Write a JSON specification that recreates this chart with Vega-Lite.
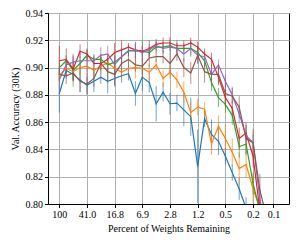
{
"$schema": "https://vega.github.io/schema/vega-lite/v6.json",
"width": 241, "height": 191,
"autosize": {"type": "none"},
"padding": {"left": 48, "top": 13, "right": 13, "bottom": 41},
"config": {
 "font": "Liberation Serif",
 "view": {"stroke": "black", "strokeWidth": 1},
 "axis": {"gridColor": "#b0b0b0", "gridWidth": 1, "gridOpacity": 1, "domainColor": "black", "tickColor": "black", "tickSize": 3.5, "labelColor": "black", "labelFontSize": 10, "titleFontSize": 10, "titleFontWeight": "normal", "titleColor": "black", "labelPadding": 2, "labelOverlap": false}
},
"data": {"values": [
{"s":"s1","x":100,"y":0.881,"lo":0.867,"hi":0.895},
{"s":"s1","x":80,"y":0.898,"lo":0.892,"hi":0.904},
{"s":"s1","x":64,"y":0.895,"lo":0.890,"hi":0.900},
{"s":"s1","x":51.2,"y":0.891,"lo":0.882,"hi":0.900},
{"s":"s1","x":40.96,"y":0.887,"lo":0.881,"hi":0.893},
{"s":"s1","x":32.77,"y":0.890,"lo":0.882,"hi":0.898},
{"s":"s1","x":26.21,"y":0.893,"lo":0.888,"hi":0.898},
{"s":"s1","x":20.97,"y":0.890,"lo":0.881,"hi":0.899},
{"s":"s1","x":16.78,"y":0.892,"lo":0.886,"hi":0.898},
{"s":"s1","x":13.42,"y":0.894,"lo":0.889,"hi":0.899},
{"s":"s1","x":10.74,"y":0.8955,"lo":0.8905,"hi":0.9005},
{"s":"s1","x":8.59,"y":0.881,"lo":0.872,"hi":0.890},
{"s":"s1","x":6.872,"y":0.893,"lo":0.883,"hi":0.903},
{"s":"s1","x":5.498,"y":0.889,"lo":0.882,"hi":0.896},
{"s":"s1","x":4.398,"y":0.8735,"lo":0.8605,"hi":0.8865},
{"s":"s1","x":3.518,"y":0.882,"lo":0.875,"hi":0.889},
{"s":"s1","x":2.815,"y":0.8735,"lo":0.8655,"hi":0.8815},
{"s":"s1","x":2.252,"y":0.874,"lo":0.868,"hi":0.880},
{"s":"s1","x":1.801,"y":0.869,"lo":0.857,"hi":0.881},
{"s":"s1","x":1.441,"y":0.864,"lo":0.850,"hi":0.878},
{"s":"s1","x":1.153,"y":0.8276,"lo":0.8006,"hi":0.8546},
{"s":"s1","x":0.922,"y":0.8625,"lo":0.8565,"hi":0.8685},
{"s":"s1","x":0.738,"y":0.851,"lo":0.840,"hi":0.862},
{"s":"s1","x":0.590,"y":0.846,"lo":0.836,"hi":0.856},
{"s":"s1","x":0.472,"y":0.835,"lo":0.829,"hi":0.841},
{"s":"s1","x":0.378,"y":0.823,"lo":0.817,"hi":0.829},
{"s":"s1","x":0.302,"y":0.811,"lo":0.803,"hi":0.819},
{"s":"s1","x":0.242,"y":0.797,"lo":0.789,"hi":0.805},
{"s":"s2","x":100,"y":0.894,"lo":0.890,"hi":0.898},
{"s":"s2","x":80,"y":0.8995,"lo":0.8945,"hi":0.9045},
{"s":"s2","x":64,"y":0.897,"lo":0.891,"hi":0.903},
{"s":"s2","x":51.2,"y":0.900,"lo":0.895,"hi":0.905},
{"s":"s2","x":40.96,"y":0.901,"lo":0.895,"hi":0.907},
{"s":"s2","x":32.77,"y":0.898,"lo":0.894,"hi":0.902},
{"s":"s2","x":26.21,"y":0.901,"lo":0.895,"hi":0.907},
{"s":"s2","x":20.97,"y":0.9035,"lo":0.8985,"hi":0.9085},
{"s":"s2","x":16.78,"y":0.8995,"lo":0.8945,"hi":0.9045},
{"s":"s2","x":13.42,"y":0.8965,"lo":0.8915,"hi":0.9015},
{"s":"s2","x":10.74,"y":0.8995,"lo":0.8935,"hi":0.9055},
{"s":"s2","x":8.59,"y":0.900,"lo":0.892,"hi":0.908},
{"s":"s2","x":6.872,"y":0.8995,"lo":0.8935,"hi":0.9055},
{"s":"s2","x":5.498,"y":0.8965,"lo":0.8905,"hi":0.9025},
{"s":"s2","x":4.398,"y":0.902,"lo":0.898,"hi":0.906},
{"s":"s2","x":3.518,"y":0.892,"lo":0.886,"hi":0.898},
{"s":"s2","x":2.815,"y":0.8965,"lo":0.8915,"hi":0.9015},
{"s":"s2","x":2.252,"y":0.891,"lo":0.885,"hi":0.897},
{"s":"s2","x":1.801,"y":0.882,"lo":0.874,"hi":0.890},
{"s":"s2","x":1.441,"y":0.867,"lo":0.859,"hi":0.875},
{"s":"s2","x":1.153,"y":0.871,"lo":0.865,"hi":0.877},
{"s":"s2","x":0.922,"y":0.8695,"lo":0.8645,"hi":0.8745},
{"s":"s2","x":0.738,"y":0.844,"lo":0.836,"hi":0.852},
{"s":"s2","x":0.590,"y":0.857,"lo":0.849,"hi":0.865},
{"s":"s2","x":0.472,"y":0.848,"lo":0.838,"hi":0.858},
{"s":"s2","x":0.378,"y":0.838,"lo":0.828,"hi":0.848},
{"s":"s2","x":0.302,"y":0.826,"lo":0.814,"hi":0.838},
{"s":"s2","x":0.242,"y":0.829,"lo":0.819,"hi":0.839},
{"s":"s2","x":0.193,"y":0.811,"lo":0.801,"hi":0.821},
{"s":"s2","x":0.155,"y":0.797,"lo":0.787,"hi":0.807},
{"s":"s3","x":100,"y":0.900,"lo":0.895,"hi":0.905},
{"s":"s3","x":80,"y":0.905,"lo":0.901,"hi":0.909},
{"s":"s3","x":64,"y":0.898,"lo":0.886,"hi":0.910},
{"s":"s3","x":51.2,"y":0.903,"lo":0.898,"hi":0.908},
{"s":"s3","x":40.96,"y":0.909,"lo":0.905,"hi":0.913},
{"s":"s3","x":32.77,"y":0.906,"lo":0.902,"hi":0.910},
{"s":"s3","x":26.21,"y":0.906,"lo":0.902,"hi":0.910},
{"s":"s3","x":20.97,"y":0.902,"lo":0.897,"hi":0.907},
{"s":"s3","x":16.78,"y":0.904,"lo":0.900,"hi":0.908},
{"s":"s3","x":13.42,"y":0.908,"lo":0.903,"hi":0.913},
{"s":"s3","x":10.74,"y":0.9125,"lo":0.9085,"hi":0.9165},
{"s":"s3","x":8.59,"y":0.912,"lo":0.907,"hi":0.917},
{"s":"s3","x":6.872,"y":0.912,"lo":0.904,"hi":0.920},
{"s":"s3","x":5.498,"y":0.911,"lo":0.907,"hi":0.915},
{"s":"s3","x":4.398,"y":0.915,"lo":0.911,"hi":0.919},
{"s":"s3","x":3.518,"y":0.915,"lo":0.911,"hi":0.919},
{"s":"s3","x":2.815,"y":0.916,"lo":0.912,"hi":0.920},
{"s":"s3","x":2.252,"y":0.914,"lo":0.910,"hi":0.918},
{"s":"s3","x":1.801,"y":0.914,"lo":0.910,"hi":0.918},
{"s":"s3","x":1.441,"y":0.914,"lo":0.908,"hi":0.920},
{"s":"s3","x":1.153,"y":0.911,"lo":0.906,"hi":0.916},
{"s":"s3","x":0.922,"y":0.905,"lo":0.900,"hi":0.910},
{"s":"s3","x":0.738,"y":0.889,"lo":0.883,"hi":0.895},
{"s":"s3","x":0.590,"y":0.878,"lo":0.871,"hi":0.885},
{"s":"s3","x":0.472,"y":0.873,"lo":0.867,"hi":0.879},
{"s":"s3","x":0.378,"y":0.865,"lo":0.858,"hi":0.872},
{"s":"s3","x":0.302,"y":0.842,"lo":0.834,"hi":0.850},
{"s":"s3","x":0.242,"y":0.844,"lo":0.837,"hi":0.851},
{"s":"s3","x":0.193,"y":0.815,"lo":0.807,"hi":0.823},
{"s":"s3","x":0.155,"y":0.795,"lo":0.787,"hi":0.803},
{"s":"s4","x":100,"y":0.905,"lo":0.894,"hi":0.916},
{"s":"s4","x":80,"y":0.906,"lo":0.898,"hi":0.914},
{"s":"s4","x":64,"y":0.899,"lo":0.890,"hi":0.908},
{"s":"s4","x":51.2,"y":0.912,"lo":0.907,"hi":0.917},
{"s":"s4","x":40.96,"y":0.910,"lo":0.906,"hi":0.914},
{"s":"s4","x":32.77,"y":0.903,"lo":0.898,"hi":0.908},
{"s":"s4","x":26.21,"y":0.903,"lo":0.898,"hi":0.908},
{"s":"s4","x":20.97,"y":0.906,"lo":0.902,"hi":0.910},
{"s":"s4","x":16.78,"y":0.911,"lo":0.904,"hi":0.918},
{"s":"s4","x":13.42,"y":0.913,"lo":0.906,"hi":0.920},
{"s":"s4","x":10.74,"y":0.915,"lo":0.912,"hi":0.918},
{"s":"s4","x":8.59,"y":0.913,"lo":0.907,"hi":0.919},
{"s":"s4","x":6.872,"y":0.912,"lo":0.908,"hi":0.916},
{"s":"s4","x":5.498,"y":0.914,"lo":0.908,"hi":0.920},
{"s":"s4","x":4.398,"y":0.917,"lo":0.913,"hi":0.921},
{"s":"s4","x":3.518,"y":0.918,"lo":0.914,"hi":0.922},
{"s":"s4","x":2.815,"y":0.918,"lo":0.914,"hi":0.922},
{"s":"s4","x":2.252,"y":0.916,"lo":0.912,"hi":0.920},
{"s":"s4","x":1.801,"y":0.916,"lo":0.912,"hi":0.920},
{"s":"s4","x":1.441,"y":0.918,"lo":0.914,"hi":0.922},
{"s":"s4","x":1.153,"y":0.915,"lo":0.911,"hi":0.919},
{"s":"s4","x":0.922,"y":0.910,"lo":0.906,"hi":0.914},
{"s":"s4","x":0.738,"y":0.906,"lo":0.901,"hi":0.911},
{"s":"s4","x":0.590,"y":0.893,"lo":0.887,"hi":0.899},
{"s":"s4","x":0.472,"y":0.878,"lo":0.872,"hi":0.884},
{"s":"s4","x":0.378,"y":0.870,"lo":0.864,"hi":0.876},
{"s":"s4","x":0.302,"y":0.848,"lo":0.840,"hi":0.856},
{"s":"s4","x":0.242,"y":0.852,"lo":0.846,"hi":0.858},
{"s":"s4","x":0.193,"y":0.835,"lo":0.827,"hi":0.843},
{"s":"s4","x":0.155,"y":0.795,"lo":0.787,"hi":0.803},
{"s":"s5","x":100,"y":0.891,"lo":0.881,"hi":0.901},
{"s":"s5","x":80,"y":0.902,"lo":0.897,"hi":0.907},
{"s":"s5","x":64,"y":0.904,"lo":0.899,"hi":0.909},
{"s":"s5","x":51.2,"y":0.905,"lo":0.899,"hi":0.911},
{"s":"s5","x":40.96,"y":0.905,"lo":0.897,"hi":0.913},
{"s":"s5","x":32.77,"y":0.905,"lo":0.901,"hi":0.909},
{"s":"s5","x":26.21,"y":0.909,"lo":0.903,"hi":0.915},
{"s":"s5","x":20.97,"y":0.910,"lo":0.904,"hi":0.916},
{"s":"s5","x":16.78,"y":0.902,"lo":0.896,"hi":0.908},
{"s":"s5","x":13.42,"y":0.908,"lo":0.902,"hi":0.914},
{"s":"s5","x":10.74,"y":0.912,"lo":0.908,"hi":0.916},
{"s":"s5","x":8.59,"y":0.913,"lo":0.908,"hi":0.918},
{"s":"s5","x":6.872,"y":0.911,"lo":0.906,"hi":0.916},
{"s":"s5","x":5.498,"y":0.913,"lo":0.909,"hi":0.917},
{"s":"s5","x":4.398,"y":0.916,"lo":0.912,"hi":0.920},
{"s":"s5","x":3.518,"y":0.914,"lo":0.910,"hi":0.918},
{"s":"s5","x":2.815,"y":0.915,"lo":0.911,"hi":0.919},
{"s":"s5","x":2.252,"y":0.914,"lo":0.910,"hi":0.918},
{"s":"s5","x":1.801,"y":0.910,"lo":0.904,"hi":0.916},
{"s":"s5","x":1.441,"y":0.914,"lo":0.909,"hi":0.919},
{"s":"s5","x":1.153,"y":0.909,"lo":0.903,"hi":0.915},
{"s":"s5","x":0.922,"y":0.908,"lo":0.903,"hi":0.913},
{"s":"s5","x":0.738,"y":0.895,"lo":0.889,"hi":0.901},
{"s":"s5","x":0.590,"y":0.902,"lo":0.898,"hi":0.906},
{"s":"s5","x":0.472,"y":0.890,"lo":0.885,"hi":0.895},
{"s":"s5","x":0.378,"y":0.880,"lo":0.874,"hi":0.886},
{"s":"s5","x":0.302,"y":0.866,"lo":0.859,"hi":0.873},
{"s":"s5","x":0.242,"y":0.850,"lo":0.843,"hi":0.857},
{"s":"s5","x":0.193,"y":0.845,"lo":0.839,"hi":0.851},
{"s":"s5","x":0.155,"y":0.803,"lo":0.795,"hi":0.811},
{"s":"s5","x":0.124,"y":0.785,"lo":0.777,"hi":0.793},
{"s":"s6","x":100,"y":0.895,"lo":0.890,"hi":0.900},
{"s":"s6","x":80,"y":0.894,"lo":0.888,"hi":0.900},
{"s":"s6","x":64,"y":0.896,"lo":0.891,"hi":0.901},
{"s":"s6","x":51.2,"y":0.890,"lo":0.882,"hi":0.898},
{"s":"s6","x":40.96,"y":0.888,"lo":0.880,"hi":0.896},
{"s":"s6","x":32.77,"y":0.892,"lo":0.886,"hi":0.898},
{"s":"s6","x":26.21,"y":0.903,"lo":0.898,"hi":0.908},
{"s":"s6","x":20.97,"y":0.897,"lo":0.889,"hi":0.905},
{"s":"s6","x":16.78,"y":0.895,"lo":0.887,"hi":0.903},
{"s":"s6","x":13.42,"y":0.903,"lo":0.898,"hi":0.908},
{"s":"s6","x":10.74,"y":0.906,"lo":0.900,"hi":0.912},
{"s":"s6","x":8.59,"y":0.902,"lo":0.897,"hi":0.907},
{"s":"s6","x":6.872,"y":0.901,"lo":0.895,"hi":0.907},
{"s":"s6","x":5.498,"y":0.907,"lo":0.900,"hi":0.914},
{"s":"s6","x":4.398,"y":0.908,"lo":0.904,"hi":0.912},
{"s":"s6","x":3.518,"y":0.908,"lo":0.903,"hi":0.913},
{"s":"s6","x":2.815,"y":0.903,"lo":0.895,"hi":0.911},
{"s":"s6","x":2.252,"y":0.910,"lo":0.905,"hi":0.915},
{"s":"s6","x":1.801,"y":0.900,"lo":0.893,"hi":0.907},
{"s":"s6","x":1.441,"y":0.896,"lo":0.888,"hi":0.904},
{"s":"s6","x":1.153,"y":0.909,"lo":0.903,"hi":0.915},
{"s":"s6","x":0.922,"y":0.897,"lo":0.889,"hi":0.905},
{"s":"s6","x":0.738,"y":0.895,"lo":0.887,"hi":0.903},
{"s":"s6","x":0.590,"y":0.895,"lo":0.888,"hi":0.902},
{"s":"s6","x":0.472,"y":0.881,"lo":0.871,"hi":0.891},
{"s":"s6","x":0.378,"y":0.879,"lo":0.873,"hi":0.885},
{"s":"s6","x":0.302,"y":0.871,"lo":0.863,"hi":0.879},
{"s":"s6","x":0.242,"y":0.848,"lo":0.836,"hi":0.860},
{"s":"s6","x":0.193,"y":0.845,"lo":0.835,"hi":0.855},
{"s":"s6","x":0.155,"y":0.810,"lo":0.798,"hi":0.822},
{"s":"s6","x":0.124,"y":0.790,"lo":0.780,"hi":0.800}
]},
"encoding": {
 "x": {"field": "x", "type": "quantitative", "title": "Percent of Weights Remaining",
  "scale": {"type": "log", "domain": [0.0606, 144], "reverse": true, "nice": false},
  "axis": {"values": [100, 40.96, 16.777, 6.872, 2.815, 1.153, 0.4722, 0.1934, 0.1], "labelExpr": "datum.value > 99 ? '100' : format(datum.value, '.1f')", "titlePadding": 4, "labelFlush": false, "labelFontSize": 10, "labelOverlap": false}},
 "color": {"field": "s", "type": "nominal", "legend": null,
  "scale": {"domain": ["s1","s2","s3","s4","s5","s6"], "range": ["#1f77b4","#ff7f0e","#2ca02c","#d62728","#9467bd","#8c564b"]}}
},
"layer": [
 {"mark": {"type": "rule", "clip": true, "strokeWidth": 1, "opacity": 0.65},
  "encoding": {
   "y": {"field": "lo", "type": "quantitative", "scale": {"domain": [0.80, 0.94], "nice": false, "zero": false},
    "axis": {"values": [0.8,0.82,0.84,0.86,0.88,0.9,0.92,0.94], "format": ".2f", "title": "Val. Accuracy (30K)", "titlePadding": 5, "labelOverlap": false, "labelFontSize": 10, "labelFlush": false}},
   "y2": {"field": "hi"}}},
 {"mark": {"type": "line", "clip": true, "strokeWidth": 1.2},
  "encoding": {"y": {"field": "y", "type": "quantitative", "scale": {"domain": [0.80, 0.94], "nice": false, "zero": false},
    "axis": {"values": [0.8,0.82,0.84,0.86,0.88,0.9,0.92,0.94], "format": ".2f", "title": "Val. Accuracy (30K)", "titlePadding": 5, "labelOverlap": false, "labelFontSize": 10, "labelFlush": false}}}}
]
}
